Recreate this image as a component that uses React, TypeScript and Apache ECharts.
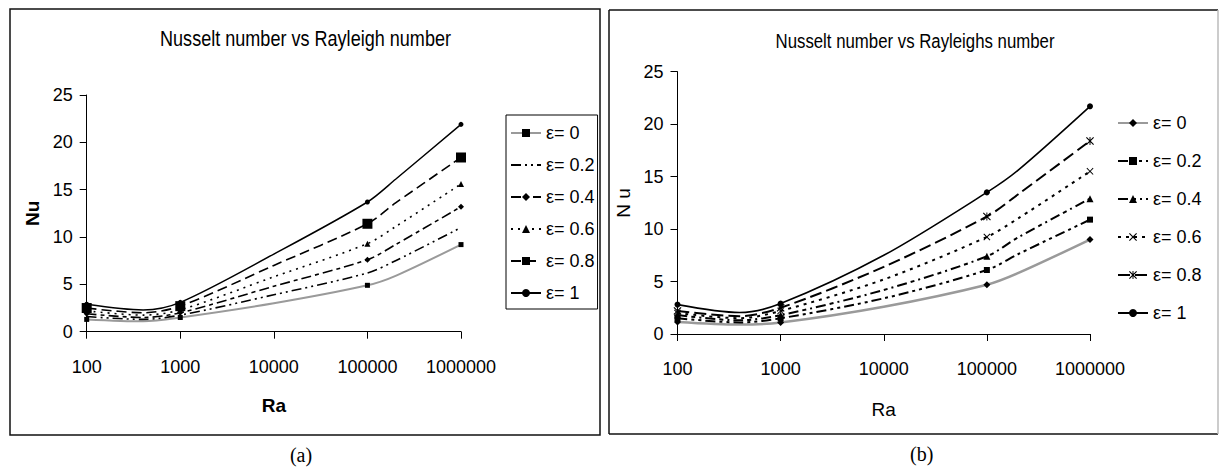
import React, { useEffect, useRef } from "react";
import * as echarts from "echarts";

// ---------- data ----------
const raValues = [100, 400, 1000, 10000, 100000, 200000, 1000000];
const markedPoints = [true, false, true, false, true, false, true];
const xTickLabels = ["100", "1000", "10000", "100000", "1000000"];
const seriesNames = ["ε= 0", "ε= 0.2", "ε= 0.4", "ε= 0.6", "ε= 0.8", "ε= 1"];

const nuA_e00 = [1.3, 1.1, 1.5, 3.0, 4.9, 5.9, 9.2];
const nuA_e02 = [1.6, 1.3, 1.75, 3.9, 6.2, 7.5, 11.0];
const nuA_e04 = [1.9, 1.5, 2.0, 4.8, 7.6, 9.2, 13.2];
const nuA_e06 = [2.2, 1.75, 2.3, 5.8, 9.3, 11.1, 15.6];
const nuA_e08 = [2.5, 2.0, 2.7, 7.0, 11.4, 13.6, 18.4];
const nuA_e10 = [2.9, 2.3, 3.1, 8.2, 13.7, 16.1, 21.9];

const nuB_e00 = [1.15, 0.9, 1.1, 2.6, 4.7, 5.8, 9.0];
const nuB_e02 = [1.5, 1.1, 1.5, 3.4, 6.1, 7.6, 10.9];
const nuB_e04 = [1.8, 1.3, 1.8, 4.2, 7.4, 9.2, 12.9];
const nuB_e06 = [2.0, 1.5, 2.2, 5.2, 9.25, 11.0, 15.5];
const nuB_e08 = [2.2, 1.7, 2.5, 6.4, 11.2, 13.3, 18.4];
const nuB_e10 = [2.8, 2.05, 2.9, 7.5, 13.5, 15.6, 21.7];

// ---------- styles ----------
const FONT = "'Liberation Sans',Arial,sans-serif";
const SERIF = "'Liberation Serif','Times New Roman',serif";

const X_SYM = "path://M0,1 L1,0 L5,4 L9,0 L10,1 L6,5 L10,9 L9,10 L5,6 L1,10 L0,9 L4,5 Z";
const STAR_SYM =
  "path://M0,1 L1,0 L5,4 L9,0 L10,1 L6,5 L10,9 L9,10 L5,6 L1,10 L0,9 L4,5 Z M4.4,0 L5.6,0 L5.6,10 L4.4,10 Z";

type Sty = { color: string; width: number; dash: any; symbol: string; size: number };

const stylesA: Sty[] = [
  { color: "#9a9a9a", width: 2, dash: "solid", symbol: "rect", size: 5 },
  { color: "#000", width: 1.6, dash: [10, 4, 2, 4, 2, 4], symbol: "none", size: 0 },
  { color: "#000", width: 1.6, dash: [10, 4, 4, 4], symbol: "diamond", size: 6 },
  { color: "#000", width: 1.6, dash: [2, 5], symbol: "triangle", size: 6 },
  { color: "#000", width: 1.6, dash: [10, 5], symbol: "rect", size: 10 },
  { color: "#000", width: 1.5, dash: "solid", symbol: "circle", size: 5 },
];

const stylesB: Sty[] = [
  { color: "#9a9a9a", width: 2.5, dash: "solid", symbol: "diamond", size: 7 },
  { color: "#000", width: 2, dash: [10, 4, 3, 4, 3, 4], symbol: "rect", size: 6 },
  { color: "#000", width: 2, dash: [10, 4, 4, 4, 2, 4], symbol: "triangle", size: 7 },
  { color: "#000", width: 2, dash: [3, 5], symbol: X_SYM, size: 7 },
  { color: "#000", width: 2, dash: [12, 5], symbol: STAR_SYM, size: 8 },
  { color: "#000", width: 1.6, dash: "solid", symbol: "circle", size: 6 },
];

const xLabelFormatter = (v: number) => {
  const i = Math.round(Math.log10(v)) - 2;
  return xTickLabels[i] ?? String(v);
};

function makeSeries(name: string, values: number[], s: Sty) {
  return {
    type: "line",
    name,
    smooth: 0.3,
    symbol: s.symbol === "none" ? "circle" : s.symbol,
    symbolSize: s.size,
    showSymbol: s.symbol !== "none",
    itemStyle: { color: "#000" },
    lineStyle: { color: s.color, width: s.width, type: s.dash },
    data: raValues.map((r, i) =>
      markedPoints[i] ? { value: [r, values[i]] } : { value: [r, values[i]], symbol: "none" }
    ),
    z: 3,
  };
}

function legendData(styles: Sty[]) {
  return seriesNames.map((n, i) =>
    styles[i].symbol === "none"
      ? { name: n, itemStyle: { color: "rgba(0,0,0,0)", borderColor: "rgba(0,0,0,0)", opacity: 0 } }
      : { name: n }
  );
}

function makeOption(p: {
  title: string;
  caption: string;
  captionX: number;
  captionY: number;
  titleX: number;
  titleY: number;
  titleSize: number;
  titleScale: number;
  grid: any;
  yName: string;
  yBold: boolean;
  yNameGap: number;
  xBold: boolean;
  xNameGap: number;
  legend: any;
  series: any[];
  borders: any[];
}) {
  return {
    animation: false,
    backgroundColor: "#fff",
    textStyle: { fontFamily: FONT },
    graphic: [
      ...p.borders,
      {
        type: "text",
        x: p.titleX,
        y: p.titleY,
        scaleX: p.titleScale,
        silent: true,
        style: {
          text: p.title,
          font: `${p.titleSize}px ${FONT}`,
          fill: "#000",
          align: "center",
          verticalAlign: "middle",
          textAlign: "center",
          textVerticalAlign: "middle",
        },
      },
      {
        type: "text",
        x: p.captionX,
        y: p.captionY,
        silent: true,
        style: {
          text: p.caption,
          font: `20px ${SERIF}`,
          fill: "#000",
          align: "center",
          verticalAlign: "middle",
          textAlign: "center",
          textVerticalAlign: "middle",
        },
      },
    ],
    grid: p.grid,
    xAxis: {
      type: "log",
      logBase: 10,
      min: 100,
      max: 1000000,
      axisLine: { show: true, lineStyle: { color: "#000", width: 1 } },
      axisTick: { show: true, length: 7, inside: false, lineStyle: { color: "#000" } },
      minorTick: { show: false },
      splitLine: { show: false },
      axisLabel: { fontSize: 18, color: "#000", margin: 26, formatter: xLabelFormatter, fontFamily: FONT },
      name: "Ra",
      nameLocation: "middle",
      nameGap: p.xNameGap,
      nameTextStyle: { fontSize: 19, fontWeight: p.xBold ? "bold" : "normal", color: "#000", fontFamily: FONT },
    },
    yAxis: {
      type: "value",
      min: 0,
      max: 25,
      interval: 5,
      axisLine: { show: true, lineStyle: { color: "#000", width: 1 } },
      axisTick: { show: true, length: 7, inside: false, lineStyle: { color: "#000" } },
      splitLine: { show: false },
      axisLabel: { fontSize: 18, color: "#000", margin: 14, fontFamily: FONT },
      name: p.yName,
      nameLocation: "middle",
      nameRotate: 90,
      nameGap: p.yNameGap,
      nameTextStyle: { fontSize: 19, fontWeight: p.yBold ? "bold" : "normal", color: "#000", fontFamily: FONT },
    },
    legend: p.legend,
    series: p.series,
  };
}

export default function App() {
  const refA = useRef<HTMLDivElement>(null);
  const refB = useRef<HTMLDivElement>(null);

  useEffect(() => {
    const chartA = echarts.init(refA.current!, undefined, { renderer: "svg" });
    const chartB = echarts.init(refB.current!, undefined, { renderer: "svg" });

    const valsA = [nuA_e00, nuA_e02, nuA_e04, nuA_e06, nuA_e08, nuA_e10];
    const valsB = [nuB_e00, nuB_e02, nuB_e04, nuB_e06, nuB_e08, nuB_e10];

    const legendText = { fontSize: 18, color: "#000", fontFamily: FONT, lineHeight: 20 };

    const optA = makeOption({
      title: "Nusselt number vs Rayleigh number",
      caption: "(a)",
      captionX: 301,
      captionY: 455,
      titleX: 305.5,
      titleY: 38,
      titleSize: 21.5,
      titleScale: 0.84,
      grid: { left: 86.7, top: 95, width: 374.3, height: 236.7 },
      yName: "Nu",
      yBold: true,
      yNameGap: 40,
      xBold: true,
      xNameGap: 64,
      legend: {
        orient: "vertical",
        left: 506,
        top: 115,
        padding: [8, 3, 6, 4],
        itemWidth: 30,
        itemHeight: 10,
        itemGap: 12,
        borderColor: "#000",
        borderWidth: 1,
        textStyle: legendText,
        data: legendData(stylesA),
      },
      series: seriesNames.map((n, i) => makeSeries(n, valsA[i], stylesA[i])),
      borders: [
        {
          type: "rect",
          silent: true,
          z: -1,
          shape: { x: 10, y: 9, width: 590, height: 426 },
          style: { fill: "none", stroke: "#111", lineWidth: 1.5 },
        },
      ],
    });

    const optB = makeOption({
      title: "Nusselt number vs Rayleighs number",
      caption: "(b)",
      captionX: 316.7,
      captionY: 453.5,
      titleX: 310,
      titleY: 41,
      titleSize: 21,
      titleScale: 0.8,
      grid: { left: 72.5, top: 71.7, width: 412.5, height: 262.3 },
      yName: "N u",
      yBold: false,
      yNameGap: 31.5,
      xBold: false,
      xNameGap: 66,
      legend: {
        orient: "vertical",
        left: 512,
        top: 113,
        padding: 0,
        itemWidth: 30,
        itemHeight: 10,
        itemGap: 18,
        textStyle: legendText,
        data: legendData(stylesB),
      },
      series: seriesNames.map((n, i) => makeSeries(n, valsB[i], stylesB[i])),
      borders: [
        { type: "line", silent: true, shape: { x1: 4, y1: 10, x2: 613, y2: 10 }, style: { stroke: "#111", lineWidth: 1.5 } },
        { type: "line", silent: true, shape: { x1: 4, y1: 10, x2: 4, y2: 434 }, style: { stroke: "#111", lineWidth: 1.5 } },
        { type: "line", silent: true, shape: { x1: 4, y1: 434, x2: 613, y2: 434 }, style: { stroke: "#111", lineWidth: 1.5 } },
        { type: "line", silent: true, shape: { x1: 613, y1: 10, x2: 613, y2: 434 }, style: { stroke: "#bbb", lineWidth: 1.5 } },
      ],
    });

    chartA.setOption(optA as any);
    chartB.setOption(optB as any);

    return () => {
      chartA.dispose();
      chartB.dispose();
    };
  }, []);

  return (
    <div style={{ position: "fixed", left: 0, top: 0, width: 1220, height: 472, background: "#fff" }}>
      <div ref={refA} style={{ position: "absolute", left: 0, top: 0, width: 605, height: 472 }} />
      <div ref={refB} style={{ position: "absolute", left: 605, top: 0, width: 615, height: 472 }} />
    </div>
  );
}
